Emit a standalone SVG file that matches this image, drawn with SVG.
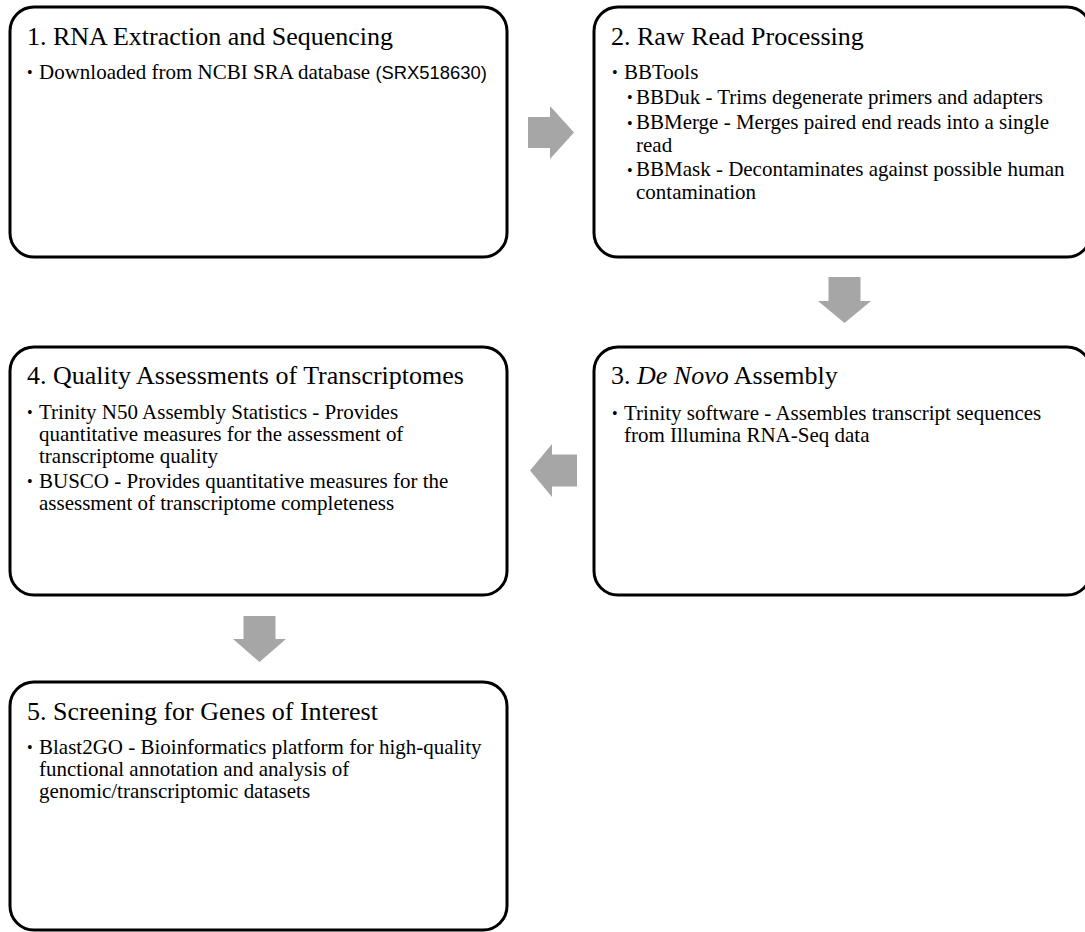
<svg xmlns="http://www.w3.org/2000/svg" width="1085" height="932" viewBox="0 0 1085 932">
<style>
.box{fill:#fff;stroke:#000;stroke-width:3}
.t{font-family:"Liberation Serif","Times New Roman",serif;font-size:26px;fill:#000}
.b{font-family:"Liberation Serif","Times New Roman",serif;font-size:20px;fill:#000;transform-box:fill-box;transform-origin:0 0;transform:scaleX(1.05)}
.d{font-family:"Liberation Serif","Times New Roman",serif;font-size:16px;fill:#000}
.c{font-family:"Liberation Sans",Arial,sans-serif;font-size:17.5px}
.arrow{fill:#A6A6A6}
</style>
<rect width="1085" height="932" fill="#fff"/>
<g id="connectors">
<polygon class="arrow" points="528,117 550,117 550,106 574,132.5 550,159 550,148 528,148"/>
<polygon class="arrow" points="828.5,277 860.5,277 860.5,301 871,301 844.5,323 818,301 828.5,301"/>
<polygon class="arrow" points="577,454.5 552,454.5 552,444 530,470.5 552,497 552,486.5 577,486.5"/>
<polygon class="arrow" points="243.5,616 275.5,616 275.5,639 286,639 259.5,662 233,639 243.5,639"/>
</g>
<g id="node1">
<rect class="box" x="10" y="7" width="497" height="250" rx="24"/>
<text class="t" x="27" y="45">1. RNA Extraction and Sequencing</text>
<text class="d" x="27" y="78">•</text>
<text class="b" x="39" y="79">Downloaded from NCBI SRA database <tspan class="c">(SRX518630)</tspan></text>
</g>
<g id="node2">
<rect class="box" x="594" y="7" width="497" height="250" rx="24"/>
<text class="t" x="611" y="45">2. Raw Read Processing</text>
<text class="d" x="612" y="78">•</text>
<text class="b" x="624" y="79">BBTools</text>
<text class="d" x="627" y="103">•</text>
<text class="b" x="636" y="104">BBDuk - Trims degenerate primers and adapters</text>
<text class="d" x="627" y="128.5">•</text>
<text class="b" x="636" y="129.5">BBMerge - Merges paired end reads into a single</text>
<text class="b" x="636" y="151.7">read</text>
<text class="d" x="627" y="175.5">•</text>
<text class="b" x="636" y="176.5">BBMask - Decontaminates against possible human</text>
<text class="b" x="636" y="198.7">contamination</text>
</g>
<g id="node3">
<rect class="box" x="594" y="347" width="497" height="248" rx="24"/>
<text class="t" x="611" y="384">3. <tspan font-style="italic">De Novo</tspan> Assembly</text>
<text class="d" x="612" y="419">•</text>
<text class="b" x="624" y="420">Trinity software - Assembles transcript sequences</text>
<text class="b" x="624" y="442.2">from Illumina RNA-Seq data</text>
</g>
<g id="node4">
<rect class="box" x="10" y="347" width="497" height="248" rx="24"/>
<text class="t" x="27" y="384">4. Quality Assessments of Transcriptomes</text>
<text class="d" x="27" y="418">•</text>
<text class="b" x="39" y="419">Trinity N50 Assembly Statistics - Provides</text>
<text class="b" x="39" y="441.2">quantitative measures for the assessment of</text>
<text class="b" x="39" y="463.4">transcriptome quality</text>
<text class="d" x="27" y="487">•</text>
<text class="b" x="39" y="488">BUSCO - Provides quantitative measures for the</text>
<text class="b" x="39" y="510.2">assessment of transcriptome completeness</text>
</g>
<g id="node5">
<rect class="box" x="10" y="682" width="497" height="248" rx="24"/>
<text class="t" x="27" y="720">5. Screening for Genes of Interest</text>
<text class="d" x="27" y="753">•</text>
<text class="b" x="39" y="754">Blast2GO - Bioinformatics platform for high-quality</text>
<text class="b" x="39" y="776.2">functional annotation and analysis of</text>
<text class="b" x="39" y="798.4">genomic/transcriptomic datasets</text>
</g>
</svg>
